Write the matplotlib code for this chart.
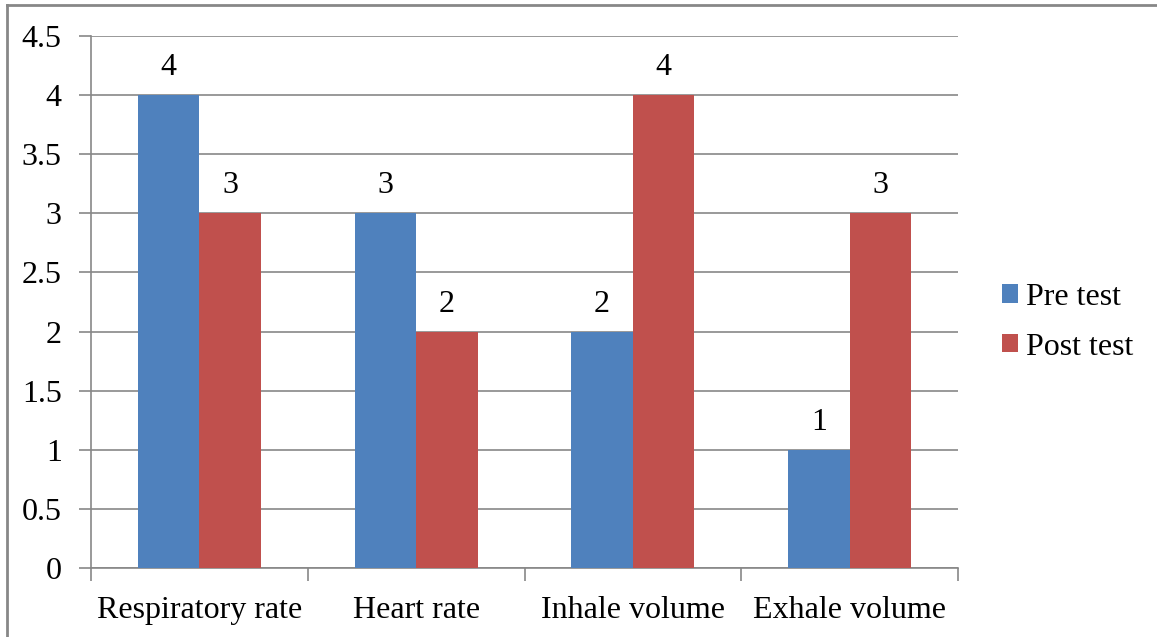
import matplotlib
matplotlib.use('Agg')
import matplotlib.pyplot as plt
import numpy as np
from matplotlib.lines import Line2D

plt.rcParams['font.family'] = 'Liberation Serif'

categories = ['Respiratory rate', 'Heart rate', 'Inhale volume', 'Exhale volume']
pre_test = [4, 3, 2, 1]
post_test = [3, 2, 4, 3]
series_names = ['Pre test', 'Post test']
colors = ['#4F81BD', '#C0504D']
yticks = [0, 0.5, 1, 1.5, 2, 2.5, 3, 3.5, 4, 4.5]

W, H = 1157, 637
fs = 23
fig = plt.figure(figsize=(W / 100, H / 100), dpi=100)
ax = fig.add_axes([91 / W, 1 - 568 / H, (958 - 91) / W, (568 - 36) / H])

x = np.arange(len(categories))
bw = 0.284
b1 = ax.bar(x - bw / 2, pre_test, bw, color=colors[0], label=series_names[0], zorder=3)
b2 = ax.bar(x + bw / 2, post_test, bw, color=colors[1], label=series_names[1], zorder=3)

for bars in (b1, b2):
    for r in bars:
        ax.text(r.get_x() + r.get_width() / 2, r.get_height() + 0.11, '%d' % r.get_height(),
                ha='center', va='bottom', fontsize=fs)

ax.set_xlim(-0.5, len(categories) - 0.5)
ax.set_ylim(0, 4.5)
ax.set_yticks(yticks)
ax.set_yticklabels(['%g' % v for v in yticks], fontsize=fs)
ax.yaxis.grid(True, color='#878787', linewidth=1.2, zorder=0)

# category ticks on the borders between groups
ax.set_xticks(np.arange(-0.5, len(categories) + 0.5, 1))
ax.set_xticklabels([])
ax.set_xticks(x, minor=True)
ax.set_xticklabels(categories, minor=True, fontsize=fs)
ax.tick_params(axis='x', which='minor', length=0, pad=20)
ax.tick_params(axis='x', which='major', length=9, color='#878787', width=1.2)
ax.tick_params(axis='y', length=9, color='#878787', width=1.2, pad=12)

for s in ['top', 'right']:
    ax.spines[s].set_visible(False)
for s in ['left', 'bottom']:
    ax.spines[s].set_color('#878787')
    ax.spines[s].set_linewidth(1.2)

ax.legend(loc='center left', bbox_to_anchor=(1.036, 0.462), frameon=False, fontsize=fs,
          borderaxespad=0, handlelength=0.5, handleheight=0.5, handletextpad=0.25,
          labelspacing=0.65)

# outer frame of the chart area
fig.add_artist(Line2D([7 / W, 7 / W], [0, 1 - 5 / H], transform=fig.transFigure,
                      color='#878787', linewidth=2))
fig.add_artist(Line2D([7 / W, 1], [1 - 5 / H, 1 - 5 / H], transform=fig.transFigure,
                      color='#878787', linewidth=2))

plt.savefig('out.png', dpi=100)
plt.close('all')
